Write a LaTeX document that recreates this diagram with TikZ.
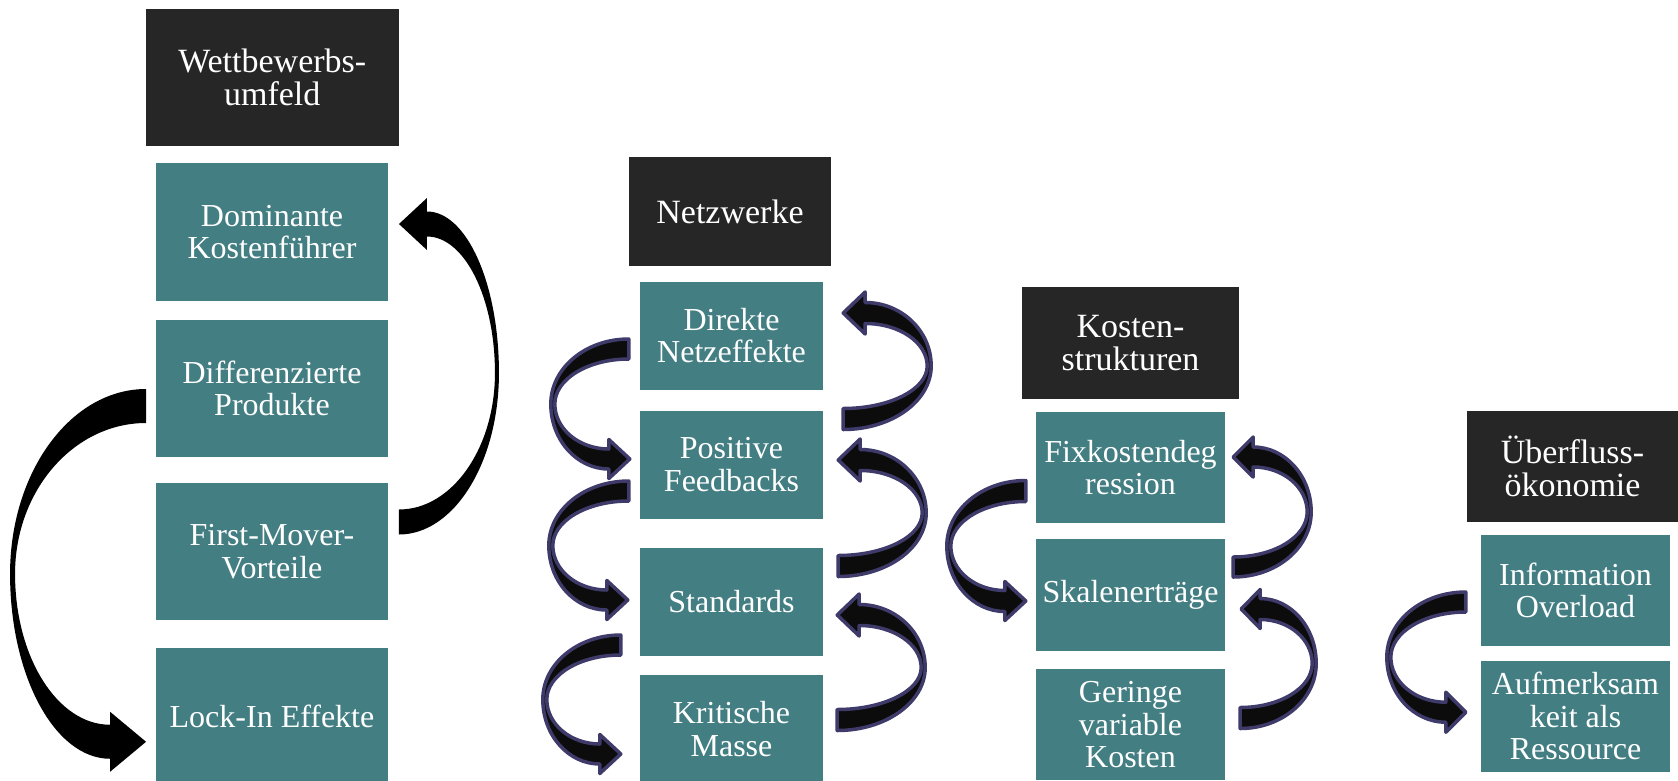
\documentclass[tikz,border=0pt]{standalone}
\usepackage{fontspec}
\setmainfont{Liberation Serif}
\usetikzlibrary{calc}

\definecolor{headgray}{HTML}{262626}
\definecolor{tealbox}{HTML}{437E83}
\definecolor{arrowfill}{HTML}{0C0C0C}
\definecolor{arrowedge}{HTML}{3E3B6A}

\newcommand\cardfont{\fontsize{32}{32.5}\selectfont}
\newcommand\titlefont{\fontsize{34}{33.5}\selectfont}

% Curved block arrow: tail and tip are points, the band swings out sideways
% by the signed bulge, is thin at the turn and ends in a flat arrow head.
\newdimen\baXa \newdimen\baYa \newdimen\baXb \newdimen\baYb
\newcommand\bentarrow[8]{% #1 style, #2 tail, #3 tip, #4 bulge, #5 half shaft, #6 half head, #7 head length, #8 thinning
  \path #2 coordinate (ba-tail);
  \path #3 coordinate (ba-tip);
  \pgfextractx{\baXa}{\pgfpointanchor{ba-tail}{center}}%
  \pgfextracty{\baYa}{\pgfpointanchor{ba-tail}{center}}%
  \pgfextractx{\baXb}{\pgfpointanchor{ba-tip}{center}}%
  \pgfextracty{\baYb}{\pgfpointanchor{ba-tip}{center}}%
  \pgfmathsetmacro\bxa{\baXa}%
  \pgfmathsetmacro\bya{\baYa}%
  \pgfmathsetmacro\bxb{\baXb}%
  \pgfmathsetmacro\byb{\baYb}%
  \pgfmathsetmacro\bsg{sign(#4)}%
  \pgfmathsetmacro\bdv{sign(\byb-\bya)}%
  \pgfmathsetmacro\bxe{\bxa+#4}%
  \pgfmathsetmacro\bym{(\bya+\byb)/2}%
  \pgfmathsetmacro\bxi{\bxe-\bsg*#8}%
  \pgfmathsetmacro\byao{\bya-\bdv*#5}%
  \pgfmathsetmacro\byai{\bya+\bdv*#5}%
  \pgfmathsetmacro\bxh{\bxb+\bsg*#7}%
  \pgfmathsetmacro\bybo{\byb+\bdv*#5}%
  \pgfmathsetmacro\bybi{\byb-\bdv*#5}%
  \pgfmathsetmacro\byho{\byb+\bdv*#6}%
  \pgfmathsetmacro\byhi{\byb-\bdv*#6}%
  \def\bk{0.5523}%
  \pgfmathsetmacro\cax{\bxa+\bk*(\bxe-\bxa)}%
  \pgfmathsetmacro\cby{\bym+\bk*(\byao-\bym)}%
  \pgfmathsetmacro\ccy{\bym+\bk*(\bybo-\bym)}%
  \pgfmathsetmacro\cdx{\bxh+\bk*(\bxe-\bxh)}%
  \pgfmathsetmacro\cex{\bxh+\bk*(\bxi-\bxh)}%
  \pgfmathsetmacro\cfy{\bym+\bk*(\bybi-\bym)}%
  \pgfmathsetmacro\cgy{\bym+\bk*(\byai-\bym)}%
  \pgfmathsetmacro\chx{\bxa+\bk*(\bxi-\bxa)}%
  \path[#1] (\bxa pt,\byao pt)
    .. controls (\cax pt,\byao pt) and (\bxe pt,\cby pt) .. (\bxe pt,\bym pt)
    .. controls (\bxe pt,\ccy pt) and (\cdx pt,\bybo pt) .. (\bxh pt,\bybo pt)
    -- (\bxh pt,\byho pt) -- (\bxb pt,\byb pt) -- (\bxh pt,\byhi pt) -- (\bxh pt,\bybi pt)
    .. controls (\cex pt,\bybi pt) and (\bxi pt,\cfy pt) .. (\bxi pt,\bym pt)
    .. controls (\bxi pt,\cgy pt) and (\chx pt,\byai pt) .. (\bxa pt,\byai pt)
    -- cycle;
}

\tikzset{
  header/.style={fill=headgray, text=white, inner sep=0pt, align=center, font=\titlefont},
  item/.style={fill=tealbox, text=white, inner sep=0pt, align=center, font=\cardfont},
  solidarrow/.style={fill=black},
  edgedarrow/.style={fill=arrowfill, draw=arrowedge, line width=3.5pt, line join=round},
}

\begin{document}
\begin{tikzpicture}[x=1pt,y=-1pt]
\useasboundingbox (0,0) rectangle (1678,780);
\clip (0,0) rectangle (1678,780);

% Wettbewerbsumfeld
\node[header, minimum width=253.5, minimum height=137.5] (h1) at (272.25,77.25) {Wettbewerbs-\\umfeld};
\node[item, minimum width=231.5, minimum height=137.5] (a1) at (272,232) {Dominante\\Kostenführer};
\node[item, minimum width=231.5, minimum height=137.5] (a2) at (272,388.5) {Differenzierte\\Produkte};
\node[item, minimum width=231.5, minimum height=137.5] (a3) at (272,551.5) {First-Mover-\\Vorteile};
\node[item, minimum width=231.5, minimum height=137.5] (a4) at (272,716.75) {Lock-In Effekte};

% Netzwerke
\node[header, minimum width=202, minimum height=109] (h2) at (730,211.5) {Netzwerke};
\node[item, minimum width=183, minimum height=108] (b1) at (731.5,335.5) {Direkte\\Netzeffekte};
\node[item, minimum width=183, minimum height=108] (b2) at (731.5,464.5) {Positive\\Feedbacks};
\node[item, minimum width=183, minimum height=108] (b3) at (731.5,602) {Standards};
\node[item, minimum width=183, minimum height=108] (b4) at (731.5,729) {Kritische\\Masse};

% Kostenstrukturen
\node[header, minimum width=217, minimum height=112] (h3) at (1130.5,343) {Kosten-\\strukturen};
\node[item, minimum width=189, minimum height=111.3] (c1) at (1130.5,467.4) {Fixkostendeg\\ression};
\node[item, minimum width=189, minimum height=111.3] (c2) at (1130.5,595) {Skalenerträge};
\node[item, minimum width=189, minimum height=111.3] (c3) at (1130.5,724.7) {Geringe\\variable\\Kosten};

% Ueberflussoekonomie
\node[header, minimum width=211, minimum height=111] (h4) at (1572.5,466.2) {Überfluss-\\ökonomie};
\node[item, minimum width=189, minimum height=111] (d1) at (1575.5,590.5) {Information\\Overload};
\node[item, minimum width=189, minimum height=111] (d2) at (1575.5,716.2) {Aufmerksam\\keit als\\Ressource};

% arrows, column 1
\bentarrow{solidarrow}{($(a2.west)+(-10,17.5)$)}{($(a4.west)+(-10,25)$)}{-136}{17}{30}{36}{5}
\bentarrow{solidarrow}{($(a3.east)+(11,-29.5)$)}{($(a1.east)+(11,-8)$)}{100}{12.5}{26}{28}{4}

% arrows, column 2
\bentarrow{edgedarrow}{($(b1.west)+(-11,13.5)$)}{($(b2.west)+(-10,-5.5)$)}{-78}{10}{19.5}{21}{4}
\bentarrow{edgedarrow}{($(b2.west)+(-11,26.5)$)}{($(b3.west)+(-12,-2)$)}{-80}{10}{19.5}{21}{4}
\bentarrow{edgedarrow}{($(b3.west)+(-19,43)$)}{($(b4.west)+(-19,25)$)}{-78}{10}{19.5}{21}{4}
\bentarrow{edgedarrow}{($(b2.east)+(20,-45.5)$)}{($(b1.east)+(20,-22.5)$)}{88}{10.5}{21}{22}{4}
\bentarrow{edgedarrow}{($(b3.east)+(15,-36)$)}{($(b2.east)+(15,-4.5)$)}{88}{10.5}{21}{22}{4}
\bentarrow{edgedarrow}{($(b4.east)+(14,-9)$)}{($(b3.east)+(14,13)$)}{88}{10.5}{21}{22}{4}

% arrows, column 3
\bentarrow{edgedarrow}{($(c1.west)+(-10,23.6)$)}{($(c2.west)+(-10,6)$)}{-79}{10.5}{19.5}{21}{4}
\bentarrow{edgedarrow}{($(c2.east)+(8,-28)$)}{($(c1.east)+(8,-10.4)$)}{78}{10}{20}{20}{4}
\bentarrow{edgedarrow}{($(c3.east)+(15,-6.7)$)}{($(c2.east)+(16,14)$)}{76}{10.5}{19.5}{19}{4}

% arrow, column 4
\bentarrow{edgedarrow}{($(d1.west)+(-15,11.5)$)}{($(d2.west)+(-15,-4)$)}{-79}{10}{20}{20}{4}
\end{tikzpicture}
\end{document}
